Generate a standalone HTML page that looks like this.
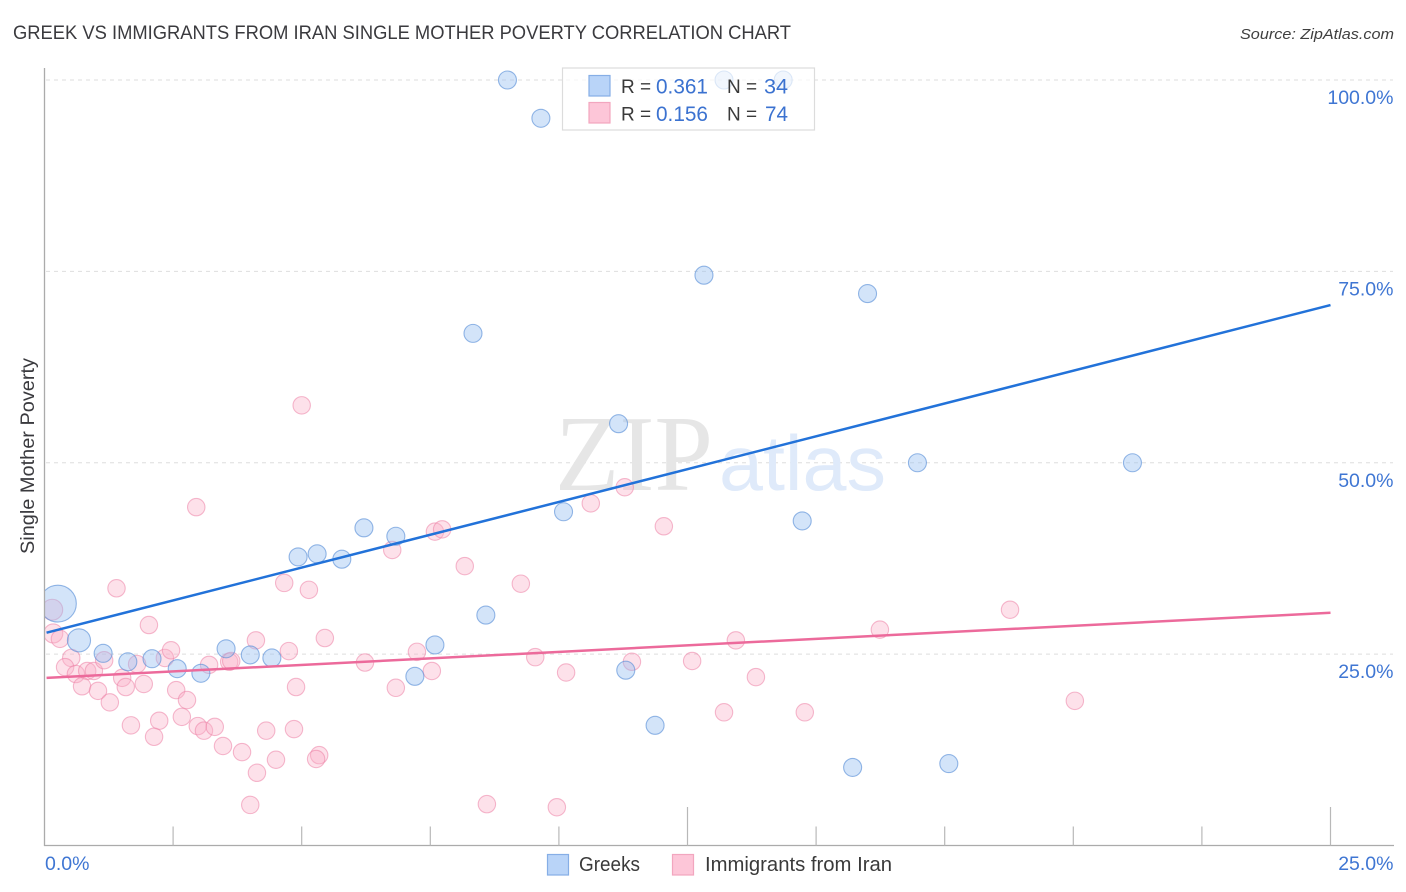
<!DOCTYPE html>
<html lang="en">
<head>
<meta charset="utf-8">
<title>Greek vs Immigrants from Iran Single Mother Poverty Correlation Chart</title>
<style>
html,body{margin:0;padding:0;background:#fff;}
body{width:1406px;height:892px;overflow:hidden;}
svg{display:block;font-family:"Liberation Sans",sans-serif;}
</style>
</head>
<body>
<svg id="chart" xmlns="http://www.w3.org/2000/svg" width="1406" height="892" viewBox="0 0 1406 892">
  <defs>
    <clipPath id="plot-clip"><rect x="44.5" y="60" width="1350" height="786"/></clipPath>
  </defs>
  <rect x="0" y="0" width="1406" height="892" fill="#ffffff"/>
  <text x="13" y="39" font-size="19" fill="#3a3a3e" textLength="778" lengthAdjust="spacingAndGlyphs">GREEK VS IMMIGRANTS FROM IRAN SINGLE MOTHER POVERTY CORRELATION CHART</text>
  <text x="1394" y="39" font-size="15" font-style="italic" fill="#3f3f3f" text-anchor="end" textLength="154" lengthAdjust="spacingAndGlyphs">Source: ZipAtlas.com</text>

  <g id="grid"></g>

  <text x="555" y="490" font-size="108" fill="#e6e6e6" style="font-family:'Liberation Serif',serif" textLength="158" lengthAdjust="spacingAndGlyphs">ZIP</text>
  <text x="719" y="490" font-size="78" fill="#dfeafa" textLength="167" lengthAdjust="spacingAndGlyphs">atlas</text>

  <g id="pink-points" clip-path="url(#plot-clip)"></g>
  <g id="blue-points" clip-path="url(#plot-clip)"></g>
  <g id="trends"></g>

  <g id="axes"></g>
  <g id="labels"></g>

  <text transform="translate(34,456) rotate(-90)" font-size="19" fill="#3a3a3e" text-anchor="middle" textLength="196" lengthAdjust="spacingAndGlyphs">Single Mother Poverty</text>

  <g>
    <rect x="562.5" y="68" width="252" height="62" fill="#ffffff" fill-opacity="0.68" stroke="#dcdcdc" stroke-width="1.2"/>
    <rect x="589" y="75.5" width="21" height="20.5" fill="#b9d4f8" stroke="#86aee6" stroke-width="1.2"/>
    <rect x="589" y="102.5" width="21" height="20.5" fill="#fdc6d8" stroke="#f2a6bf" stroke-width="1.2"/>
    <text x="621" y="93" font-size="19" fill="#3a3a3a">R =</text>
    <text x="656" y="93.5" font-size="21" fill="#3b72d0" textLength="52" lengthAdjust="spacingAndGlyphs">0.361</text>
    <text x="727" y="93" font-size="19" fill="#3a3a3a">N =</text>
    <text x="764" y="93.5" font-size="21" fill="#3b72d0" textLength="24" lengthAdjust="spacingAndGlyphs">34</text>
    <text x="621" y="120.5" font-size="19" fill="#3a3a3a">R =</text>
    <text x="656" y="121" font-size="21" fill="#3b72d0" textLength="52" lengthAdjust="spacingAndGlyphs">0.156</text>
    <text x="727" y="120.5" font-size="19" fill="#3a3a3a">N =</text>
    <text x="765" y="121" font-size="21" fill="#3b72d0" textLength="23" lengthAdjust="spacingAndGlyphs">74</text>
  </g>

  <g>
    <rect x="547.5" y="854.5" width="21" height="20.5" fill="#b9d4f8" stroke="#86aee6" stroke-width="1.2"/>
    <text x="579" y="871" font-size="20" fill="#3a3a3a" textLength="61" lengthAdjust="spacingAndGlyphs">Greeks</text>
    <rect x="672.5" y="854.5" width="21" height="20.5" fill="#fdc6d8" stroke="#f2a6bf" stroke-width="1.2"/>
    <text x="705" y="871" font-size="20" fill="#3a3a3a" textLength="187" lengthAdjust="spacingAndGlyphs">Immigrants from Iran</text>
  </g>
</svg>
<script>
const greekX = [0.26,0.67,1.14,1.62,2.09,2.58,3.04,3.53,4.0,4.42,4.93,5.3,5.78,6.21,6.83,7.2,7.59,8.33,8.58,9.0,9.65,10.09,11.16,11.3,11.87,12.82,13.21,14.36,14.73,15.71,16.0,16.97,17.58,21.15];
const greekY = [31.6,26.8,25.1,24.0,24.4,23.1,22.5,25.7,24.9,24.5,37.7,38.1,37.4,41.5,40.4,22.1,26.2,66.9,30.1,100,95,43.6,55.1,22.9,15.7,74.5,100,100,42.4,10.2,72.1,50,10.7,50];
const greekWeight = [4.2,1.65,1,1,1,1,1,1,1,1,1,1,1,1,1,1,1,1,1,1,1,1,1,1,1,1,1,1,1,1,1,1,1,1];
const iranX = [0.15,0.17,0.30,0.52,0.40,0.61,0.83,0.96,0.73,1.04,1.27,1.16,1.40,2.03,1.68,2.23,2.13,1.51,1.58,1.80,1.93,2.34,2.46,2.56,2.77,2.67,2.98,3.10,3.31,3.47,3.20,3.59,3.63,3.84,4.13,4.0,4.11,4.31,4.50,4.85,4.89,4.75,5.45,5.34,5.28,4.66,5.14,5.0,2.95,6.76,7.59,7.73,8.17,9.26,10.62,11.28,12.04,6.23,6.83,7.24,7.53,9.54,10.14,11.42,12.59,13.21,13.44,13.83,14.78,16.24,18.77,20.03,8.6,9.96];
const iranY = [30.8,27.7,27.0,24.5,23.3,22.4,22.8,22.8,20.8,20.2,18.7,24.2,33.6,28.8,15.7,16.3,14.2,21.9,20.7,23.7,21.1,24.5,25.5,20.3,19.0,16.8,15.6,15.0,15.5,13.0,23.6,24.0,24.1,12.2,9.5,5.3,26.8,15.0,11.2,15.2,20.7,25.4,27.1,11.8,11.3,34.3,33.4,57.5,44.2,38.6,41.0,41.3,36.5,34.2,44.7,46.8,41.7,23.9,20.6,25.3,22.8,24.6,22.6,24.0,24.1,17.4,26.8,22.0,17.4,28.2,30.8,18.9,5.4,5.0];
const iranWeight = [1.45,1.2,1,1,1,1,1,1,1,1,1,1,1,1,1,1,1,1,1,1,1,1,1,1,1,1,1,1,1,1,1,1,1,1,1,1,1,1,1,1,1,1,1,1,1,1,1,1,1,1,1,1,1,1,1,1,1,1,1,1,1,1,1,1,1,1,1,1,1,1,1,1,1,1];
const greekTrend = [27.8,70.6];
const iranTrend = [21.9,30.4];
const trendRange = [0.04,25];
const yGridValues = [100,75,50,25];
const yTickLabels = ["100.0%","75.0%","50.0%","25.0%"];
const xTickValues = [2.5,5,7.5,10,12.5,15,17.5,20,22.5,25];
const xMajorTicks = [12.5,25];
const xEndLabels = ["0.0%","25.0%"];

const SVG_NS = "http://www.w3.org/2000/svg";
function xPos(v){ return 44.5 + v * 51.44; }
function yPos(v){ return 845.5 - v * 7.655; }
function make(tag, attrs, parent){
  const el = document.createElementNS(SVG_NS, tag);
  for (const k in attrs) el.setAttribute(k, attrs[k]);
  parent.appendChild(el);
  return el;
}

const gridGroup = document.getElementById("grid");
yGridValues.forEach(function(v){
  const line = make("line", {x1:46, x2:1393, y1:yPos(v), y2:yPos(v), stroke:"#dedede", "stroke-width":1, "stroke-dasharray":"4 4"}, gridGroup);
  
  
});

function drawPoints(groupId, xs, ys, weights, fill, stroke, baseR, name){
  const g = document.getElementById(groupId);
  xs.forEach(function(x, i){
    const c = make("circle", {cx:xPos(x), cy:yPos(ys[i]), r:baseR * Math.sqrt(weights[i]), fill:fill, stroke:stroke, "stroke-width":1.1}, g);
    
    
  });
}
drawPoints("pink-points", iranX, iranY, iranWeight, "rgba(250,175,200,0.38)", "rgba(236,130,165,0.55)", 8.7, "iran-point");
drawPoints("blue-points", greekX, greekY, greekWeight, "rgba(150,190,240,0.42)", "rgba(85,140,215,0.62)", 9, "greek-point");

const trendGroup = document.getElementById("trends");
const blueTrendLine = make("line", {x1:xPos(trendRange[0]), x2:xPos(trendRange[1]), y1:yPos(greekTrend[0]), y2:yPos(greekTrend[1]), stroke:"#2272d9", "stroke-width":2.5}, trendGroup);


const pinkTrendLine = make("line", {x1:xPos(trendRange[0]), x2:xPos(trendRange[1]), y1:yPos(iranTrend[0]), y2:yPos(iranTrend[1]), stroke:"#ec6a9b", "stroke-width":2.5}, trendGroup);



const axesGroup = document.getElementById("axes");
const yAxisLine = make("line", {x1:44.5, x2:44.5, y1:68, y2:846, stroke:"#ababab", "stroke-width":1.3}, axesGroup);


const xAxisLine = make("line", {x1:44, x2:1394, y1:845.5, y2:845.5, stroke:"#ababab", "stroke-width":1.3}, axesGroup);


xTickValues.forEach(function(v){
  const top = xMajorTicks.indexOf(v) >= 0 ? 807 : 826.5;
  const tick = make("line", {x1:xPos(v), x2:xPos(v), y1:top, y2:845.5, stroke:"#b8b8b8", "stroke-width":1.2}, axesGroup);
  
  
});

const labelGroup = document.getElementById("labels");
yTickLabels.forEach(function(t, i){
  const label = make("text", {x:1393.5, y:yPos(yGridValues[i]) + 24, "text-anchor":"end", "font-size":19.5, fill:"#3f76d3"}, labelGroup);
  label.textContent = t;
  
  
});
const xStartLabel = make("text", {x:45, y:870, "font-size":19.5, fill:"#3f76d3"}, labelGroup);
xStartLabel.textContent = xEndLabels[0];


const xEndLabel = make("text", {x:1393.5, y:870, "text-anchor":"end", "font-size":19.5, fill:"#3f76d3"}, labelGroup);
xEndLabel.textContent = xEndLabels[1];


</script>
</body>
</html>
